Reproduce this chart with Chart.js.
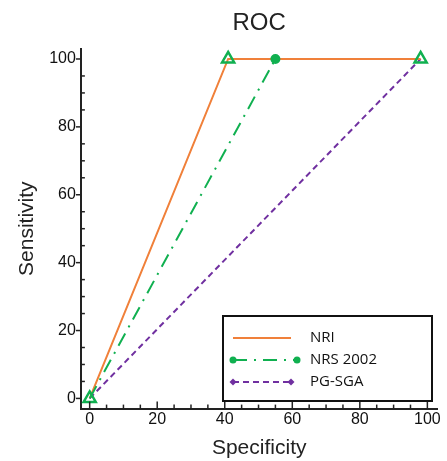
<!DOCTYPE html>
<html><head><meta charset="utf-8">
<script src="https://cdn.jsdelivr.net/npm/chart.js@4/dist/chart.umd.min.js"></script>
<style>html,body{margin:0;padding:0;background:#fff}#wrap{width:447px;height:461px}</style>
</head><body><div id="wrap"><canvas id="c" width="447" height="461"></canvas></div>
<script>
const seriesNames = ['NRI', 'NRS 2002', 'PG-SGA'];
const nriSpecificity = [0, 41, 98];
const nriSensitivity = [0, 100, 100];
const nrsSpecificity = [0, 55];
const nrsSensitivity = [0, 100];
const pgSpecificity = [0, 98];
const pgSensitivity = [0, 100];
const cutSpecificity = [0, 41, 98];
const cutSensitivity = [0, 100, 100];
const majorTicks = [0, 20, 40, 60, 80, 100];
const minorTicks = [5, 10, 15, 25, 30, 35, 45, 50, 55, 65, 70, 75, 85, 90, 95];

const pts = (xs, ys) => xs.map((x, i) => ({x, y: ys[i]}));
const ORANGE = '#F0803A', GREEN = '#10B050', PURPLE = '#7030A0';
const FONT = "'Liberation Sans', Arial, sans-serif";

const tickPlugin = {
  id: 'ticks',
  afterDraw(chart) {
    const ctx = chart.ctx, xs = chart.scales.x, ys = chart.scales.y, a = chart.chartArea;
    ctx.save();
    ctx.strokeStyle = '#222'; ctx.lineWidth = 1.5;
    majorTicks.forEach(v => {
      const px = xs.getPixelForValue(v);
      ctx.beginPath(); ctx.moveTo(px, a.bottom); ctx.lineTo(px, a.bottom - 7); ctx.stroke();
      const py = ys.getPixelForValue(v);
      ctx.beginPath(); ctx.moveTo(a.left, py); ctx.lineTo(a.left - 5, py); ctx.stroke();
    });
    minorTicks.forEach(v => {
      const px = xs.getPixelForValue(v);
      ctx.beginPath(); ctx.moveTo(px, a.bottom); ctx.lineTo(px, a.bottom - 4); ctx.stroke();
      const py = ys.getPixelForValue(v);
      ctx.beginPath(); ctx.moveTo(a.left, py); ctx.lineTo(a.left + 4, py); ctx.stroke();
    });
    ctx.restore();
  }
};

const legendPlugin = {
  id: 'boxLegend',
  afterDraw(chart) {
    const ctx = chart.ctx;
    const bx = 223, by = 316, bw = 209, bh = 85;
    ctx.save();
    ctx.fillStyle = '#fff'; ctx.fillRect(bx, by, bw, bh);
    ctx.strokeStyle = '#111'; ctx.lineWidth = 2; ctx.strokeRect(bx, by, bw, bh);
    const rows = [338, 360, 382];
    chart.data.datasets.slice(0, 3).forEach((ds, i) => {
      const y = rows[i];
      ctx.strokeStyle = ds.borderColor; ctx.lineWidth = ds.borderWidth;
      ctx.setLineDash(ds.borderDash || []);
      const x1 = 233, x2 = i === 1 ? 297 : 291;
      ctx.beginPath(); ctx.moveTo(x1, y); ctx.lineTo(x2, y); ctx.stroke();
      ctx.setLineDash([]);
      if (i > 0) {
        ctx.fillStyle = ds.borderColor;
        [x1, x2].forEach(x => {
          if (i === 1) { ctx.beginPath(); ctx.arc(x, y, 3.5, 0, Math.PI * 2); ctx.fill(); }
          else { ctx.beginPath(); ctx.moveTo(x, y - 3.5); ctx.lineTo(x + 3.5, y); ctx.lineTo(x, y + 3.5); ctx.lineTo(x - 3.5, y); ctx.closePath(); ctx.fill(); }
        });
      }
      ctx.fillStyle = '#111'; ctx.font = "15px 'Open Sans', sans-serif"; ctx.textBaseline = 'middle';
      ctx.fillText(ds.label, 310, y);
    });
    ctx.restore();
  }
};

new Chart(document.getElementById('c'), {
  type: 'line',
  data: {
    datasets: [
      {label: seriesNames[0], data: pts(nriSpecificity, nriSensitivity), borderColor: ORANGE, borderWidth: 2, pointRadius: 0, order: 3},
      {label: seriesNames[1], data: pts(nrsSpecificity, nrsSensitivity), borderColor: GREEN, backgroundColor: GREEN, borderWidth: 2, borderDash: [14, 7, 2, 7], pointRadius: [0, 4], order: 2},
      {label: seriesNames[2], data: pts(pgSpecificity, pgSensitivity), borderColor: PURPLE, backgroundColor: PURPLE, borderWidth: 2, borderDash: [6, 4], pointRadius: 0, order: 4},
      {label: 'cutoff', data: pts(cutSpecificity, cutSensitivity), showLine: false, pointStyle: 'triangle', pointRadius: 7, borderColor: GREEN, backgroundColor: 'rgba(0,0,0,0)', borderWidth: 2.5, order: 1}
    ]
  },
  options: {
    responsive: false, animation: false,
    layout: {padding: {top: 0, right: 7, left: 0, bottom: 0}},
    plugins: {
      legend: {display: false}, tooltip: {enabled: false},
      title: {display: true, fullSize: false, text: 'ROC', color: '#222', font: {family: FONT, size: 24, weight: 'normal'}, padding: {top: 9, bottom: 11}}
    },
    scales: {
      x: {type: 'linear', min: -2.6, max: 103,
        afterBuildTicks: s => { s.ticks = majorTicks.map(v => ({value: v})); },
        afterFit: s => { s.paddingRight = 0; },
        grid: {display: false, drawTicks: false},
        border: {display: true, color: '#222', width: 2},
        ticks: {color: '#111', font: {family: FONT, size: 16}, padding: 1, maxRotation: 0},
        title: {display: true, text: 'Specificity', color: '#222', font: {family: FONT, size: 21}, padding: {top: 6, bottom: 0}}
      },
      y: {type: 'linear', min: -3, max: 103,
        afterBuildTicks: s => { s.ticks = majorTicks.map(v => ({value: v})); },
        grid: {display: false, drawTicks: false},
        border: {display: true, color: '#222', width: 2},
        ticks: {color: '#111', font: {family: FONT, size: 16}, padding: 5},
        title: {display: true, text: 'Sensitivity', color: '#222', font: {family: FONT, size: 21}, padding: {top: 15, bottom: 4}}
      }
    }
  },
  plugins: [tickPlugin, legendPlugin]
});
</script></body></html>
